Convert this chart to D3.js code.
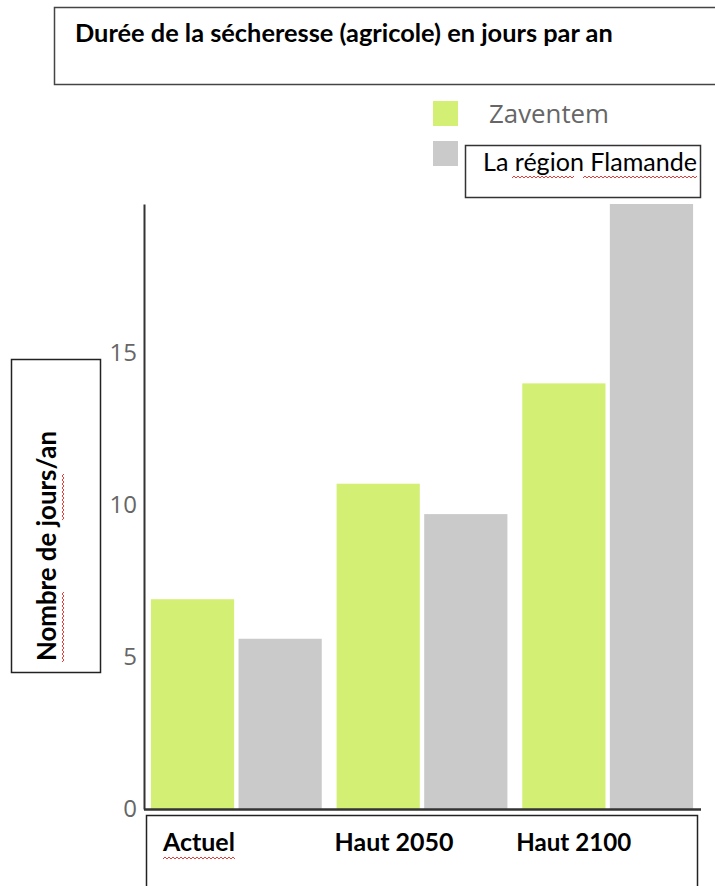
<!DOCTYPE html>
<html>
<head>
<meta charset="utf-8">
<script src="https://cdn.jsdelivr.net/npm/d3@7"></script>
<style>
  body { margin: 0; background: #fff; }
  svg { display: block; }
</style>
</head>
<body>
<div class="container"></div>
<script>
// data
var categories = ["Actuel", "Haut 2050", "Haut 2100"];
var seriesNames = ["Zaventem", "La région Flamande"];
var zaventem = [6.9, 10.7, 14.0];
var flandre = [5.6, 9.7, 19.9];
var yTicks = [0, 5, 10, 15];
var colors = ["#d3f074", "#cacaca"];

var width = 715, height = 886;
var calibriLike = "Lato, 'Open Sans', sans-serif";

var svg = d3.select("div.container").append("svg")
    .attr("width", width)
    .attr("height", height);

// scale font-size so the text takes the given width
function fit(sel, target) {
  var len = sel.node().getComputedTextLength();
  var fs = +sel.attr("font-size");
  sel.attr("font-size", (fs * target / len).toFixed(2));
  return sel;
}

// red spell-check squiggle under a word
function squiggle(x1, x2, yy) {
  var p = d3.path();
  p.moveTo(x1, yy);
  var up = true;
  for (var xx = x1 + 2; xx <= x2; xx += 2) {
    p.lineTo(xx, up ? yy - 2 : yy);
    up = !up;
  }
  svg.append("path").attr("d", p.toString())
      .attr("fill", "none").attr("stroke", "#e0403a").attr("stroke-width", 1);
}

var x0 = d3.scaleBand().domain(categories).range([143.5, 700.5])
    .paddingInner(0.08).paddingOuter(0.04);
var x1 = d3.scaleBand().domain(seriesNames).range([0, x0.bandwidth()]).paddingInner(0.05);
var y = d3.scaleLinear().domain([0, 19.9]).range([809, 204]);

var rows = categories.map(function (c, i) {
  return { cat: c, values: [zaventem[i], flandre[i]] };
});

// title box
svg.append("rect").attr("x", 54.5).attr("y", 7.5).attr("width", 700).attr("height", 77)
    .attr("fill", "#fff").attr("stroke", "#444").attr("stroke-width", 1.5);
fit(svg.append("text").attr("x", 75).attr("y", 42)
    .attr("font-family", calibriLike).attr("font-weight", "bold")
    .attr("font-size", 24).attr("fill", "#000")
    .text("Durée de la sécheresse (agricole) en jours par an"), 538);

// bars
var groups = svg.append("g").selectAll("g").data(rows).enter().append("g")
    .attr("transform", function (d) { return "translate(" + x0(d.cat) + ",0)"; });
groups.selectAll("rect").data(function (d) {
    return d.values.map(function (v, j) { return { key: seriesNames[j], value: v, j: j }; });
  }).enter().append("rect")
    .attr("x", function (d) { return x1(d.key); })
    .attr("width", x1.bandwidth())
    .attr("y", function (d) { return y(d.value); })
    .attr("height", function (d) { return y(0) - y(d.value); })
    .attr("fill", function (d) { return colors[d.j]; });

// axes
var yAxis = svg.append("g").attr("transform", "translate(144,0)")
    .call(d3.axisLeft(y).tickValues(yTicks).tickSize(0).tickPadding(7));
yAxis.select(".domain").attr("stroke", "#333").attr("stroke-width", 2);
yAxis.selectAll("text").attr("font-family", "'Open Sans', sans-serif")
    .attr("font-size", 24).attr("fill", "#666");

var xAxis = svg.append("g").attr("transform", "translate(0,809)")
    .call(d3.axisBottom(x0).tickSize(0).tickFormat(""));
xAxis.select(".domain").attr("stroke", "#333").attr("stroke-width", 2.5);

// legend
var legend = svg.append("g");
legend.selectAll("rect").data(seriesNames).enter().append("rect")
    .attr("x", 433).attr("y", function (d, i) { return 101 + i * 40; })
    .attr("width", 25).attr("height", 25)
    .attr("fill", function (d, i) { return colors[i]; });
fit(legend.append("text").attr("x", 489).attr("y", 123)
    .attr("font-family", "'Open Sans', sans-serif").attr("font-size", 22).attr("fill", "#666")
    .text(seriesNames[0]), 120);
legend.append("rect").attr("x", 465.5).attr("y", 145.5).attr("width", 235).attr("height", 52)
    .attr("fill", "#fff").attr("stroke", "#333").attr("stroke-width", 1.5);
fit(legend.append("text").attr("x", 483).attr("y", 171)
    .attr("font-family", calibriLike).attr("font-size", 22).attr("fill", "#000")
    .text(seriesNames[1]), 214);
squiggle(512, 575, 178);
squiggle(583, 697, 178);

// y label box
svg.append("rect").attr("x", 11.5).attr("y", 359.5).attr("width", 89).attr("height", 313)
    .attr("fill", "#fff").attr("stroke", "#222").attr("stroke-width", 1.5);
fit(svg.append("text").attr("transform", "translate(56,546) rotate(-90)")
    .attr("text-anchor", "middle")
    .attr("font-family", calibriLike).attr("font-weight", "bold")
    .attr("font-size", 22).attr("fill", "#000")
    .text("Nombre de jours/an"), 230);
svg.append("path").attr("d", (function () {
    var p = d3.path(); p.moveTo(62, 662);
    var up = true;
    for (var yy = 660; yy >= 592; yy -= 2) { p.lineTo(up ? 64 : 62, yy); up = !up; }
    p.moveTo(62, 520);
    up = true;
    for (var yy2 = 518; yy2 >= 474; yy2 -= 2) { p.lineTo(up ? 64 : 62, yy2); up = !up; }
    return p.toString();
  })()).attr("fill", "none").attr("stroke", "#e0403a").attr("stroke-width", 1);

// category box
svg.append("rect").attr("x", 146.5).attr("y", 815.5).attr("width", 551).attr("height", 80)
    .attr("fill", "#fff").attr("stroke", "#222").attr("stroke-width", 1.5);
var labelDx = [12, -2, -6];
var labelW = [72, 119, 115];
svg.append("g").selectAll("text").data(categories).enter().append("text")
    .attr("x", function (d, i) { return x0(d) + labelDx[i]; })
    .attr("y", 851)
    .attr("font-family", calibriLike).attr("font-weight", "bold")
    .attr("font-size", 24).attr("fill", "#000")
    .text(function (d) { return d; })
    .each(function (d, i) { fit(d3.select(this), labelW[i]); });
squiggle(163, 235, 859);
</script>
</body>
</html>
